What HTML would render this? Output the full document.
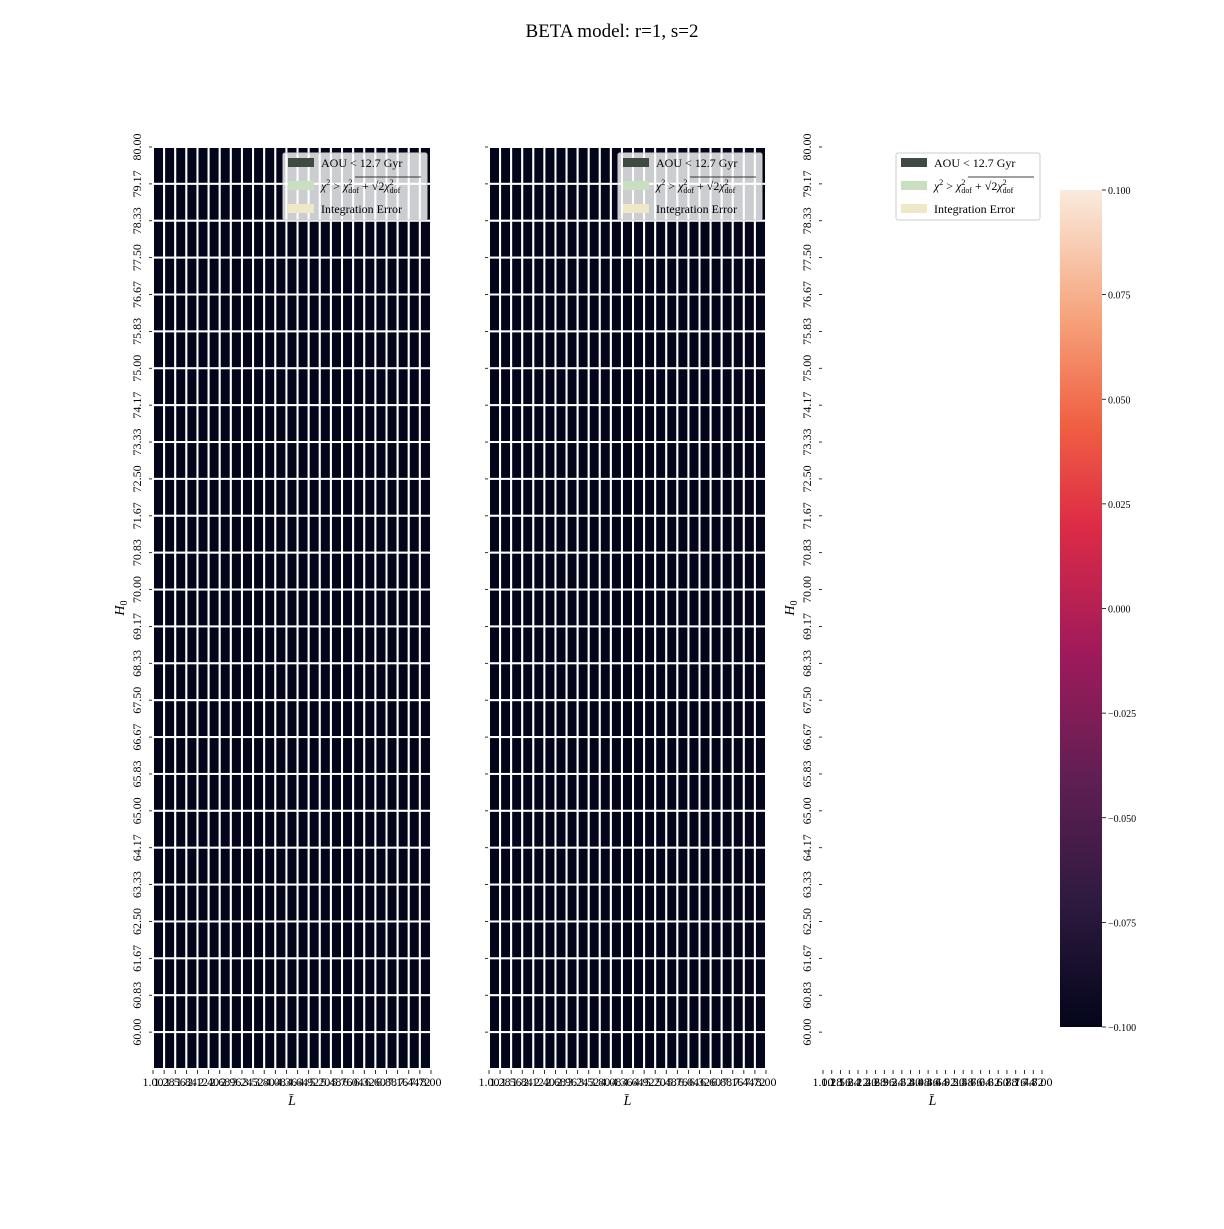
<!DOCTYPE html>
<html><head><meta charset="utf-8">
<style>
html,body{margin:0;padding:0;background:#fff;}
svg text{font-family:"Liberation Serif",serif;fill:#000;}
</style></head>
<body>
<svg id="fig" width="1224" height="1224" xmlns="http://www.w3.org/2000/svg">
<defs>
<linearGradient id="rocket" x1="0" y1="1" x2="0" y2="0">
<stop offset="0" stop-color="#03051A"/>
<stop offset="0.15" stop-color="#2E1A3F"/>
<stop offset="0.3" stop-color="#611F53"/>
<stop offset="0.45" stop-color="#A11A5B"/>
<stop offset="0.6" stop-color="#DD2C45"/>
<stop offset="0.72" stop-color="#F06043"/>
<stop offset="0.85" stop-color="#F6A47D"/>
<stop offset="1" stop-color="#FAEBDD"/>
</linearGradient>
</defs>
<text x="612" y="37" font-size="19" text-anchor="middle">BETA model: r=1, s=2</text>
<g id="root"></g>
</svg>
<script>
const yLabels = ["80.00","79.17","78.33","77.50","76.67","75.83","75.00","74.17","73.33","72.50","71.67","70.83","70.00","69.17","68.33","67.50","66.67","65.83","65.00","64.17","63.33","62.50","61.67","60.83","60.00"];
const xLabels = ["1.00","1.28","1.56","1.84","2.12","2.40","2.68","2.96","3.24","3.52","3.80","4.08","4.36","4.64","4.92","5.20","5.48","5.76","6.04","6.32","6.60","6.88","7.16","7.44","7.72","8.00"];
const nCols = 25;
const nRows = 25;
const cellValues1 = Array(nRows * nCols).fill(-0.1);
const cellValues2 = Array(nRows * nCols).fill(-0.1);
const cbTicks = [0.100,0.075,0.050,0.025,0.000,-0.025,-0.050,-0.075,-0.100];
const cbMin = -0.1, cbMax = 0.1;

const NS = "http://www.w3.org/2000/svg";
const root = document.getElementById('root');
function mk(tag, attrs, parent){
  const e = document.createElementNS(NS, tag);
  for (const k in attrs) e.setAttribute(k, attrs[k]);
  (parent||root).appendChild(e);
  return e;
}
function color(v){
  const t = (v - cbMin)/(cbMax - cbMin);
  const stops = [[0,[3,5,26]],[0.15,[46,26,63]],[0.3,[97,31,83]],[0.45,[161,26,91]],[0.6,[221,44,69]],[0.72,[240,96,67]],[0.85,[246,164,125]],[1,[250,235,221]]];
  for (let i=1;i<stops.length;i++){
    if (t<=stops[i][0]){
      const a=stops[i-1],b=stops[i],f=(t-a[0])/(b[0]-a[0]);
      const c=a[1].map((x,j)=>Math.round(x+(b[1][j]-x)*f));
      return `rgb(${c[0]},${c[1]},${c[2]})`;
    }
  }
  return 'rgb(250,235,221)';
}

const plotTop = 147, plotBottom = 1069;
const rowH = (plotBottom - plotTop) / nRows;

function panel(name, x0, x1, values, legendX, showY){
  const g = mk('g', {});
  
  
  const cw = (x1 - x0) / nCols;
  if (values){
    for (let r=0;r<nRows;r++) for (let c=0;c<nCols;c++){
      const cell = mk('rect', {x:x0+c*cw, y:plotTop+r*rowH, width:cw, height:rowH, fill:color(values[r*nCols+c]), stroke:'#fff', 'stroke-width':2}, g);
      
      
    }
  }
  yLabels.forEach((lab,i)=>{
    const y = plotTop + i*rowH;
    mk('line',{x1:x0-4,x2:x0-1,y1:y,y2:y,stroke:'#000','stroke-width':0.8},g);
    if (showY){
      const t = mk('text',{x:0,y:0,'font-size':12,'text-anchor':'middle',transform:`translate(${x0-12},${y}) rotate(-90)`},g);
      
      
      t.textContent = lab;
    }
  });
  if (showY){
    const yt = mk('text',{x:0,y:0,'font-size':14,'font-style':'italic','text-anchor':'middle',transform:`translate(${x0-29},${(plotTop+plotBottom)/2}) rotate(-90)`},g);
    
    
    yt.innerHTML = 'H<tspan font-size="10" dy="3" font-style="normal">0</tspan>';
  }
  xLabels.forEach((lab,i)=>{
    const x = x0 + i*cw;
    mk('line',{x1:x,x2:x,y1:plotBottom+1,y2:plotBottom+5,stroke:'#000','stroke-width':0.8},g);
    const t = mk('text',{x:x,y:plotBottom+17,'font-size':12,'text-anchor':'middle'},g);
    
    
    t.textContent = lab;
  });
  const xt = mk('text',{x:(x0+x1)/2,y:plotBottom+36,'font-size':14,'font-style':'italic','text-anchor':'middle'},g);
  
  
  xt.textContent = 'L\u0304';
  const lg = mk('g',{},g);
  
  
  mk('rect',{x:legendX,y:153,width:144,height:67,rx:2,fill:'#fff','fill-opacity':values?0.8:1,stroke:'#ccc','stroke-width':1},lg);
  const items = [['#3F4B40','AOU < 12.7 Gyr'],['#C8E0C0','chi'],['#EDE8C8','Integration Error']];
  items.forEach((it,i)=>{
    const y = 158 + i*23;
    const sw = mk('rect',{x:legendX+5,y:y,width:26,height:9,fill:it[0]},lg);
    
    
    const t = mk('text',{x:legendX+38,y:y+9,'font-size':12},lg);
    
    
    if (it[1]==='chi'){
      t.innerHTML = '<tspan font-style="italic">χ</tspan><tspan font-size="8" dy="-5">2</tspan><tspan dy="5"> &gt; </tspan><tspan font-style="italic">χ</tspan><tspan font-size="8" dy="-5">2</tspan><tspan font-size="8" dx="-4" dy="8">dof</tspan><tspan dy="-3"> + √</tspan><tspan>2</tspan><tspan font-style="italic">χ</tspan><tspan font-size="8" dy="-5">2</tspan><tspan font-size="8" dx="-4" dy="8">dof</tspan>';
      mk('line',{x1:legendX+72,x2:legendX+138,y1:y-4,y2:y-4,stroke:'#000','stroke-width':0.8},lg);
    } else t.textContent = it[1];
  });
}
panel('heatmap-panel-1', 153, 431, cellValues1, 283, true);
panel('heatmap-panel-2', 489, 766, cellValues2, 618, false);
panel('empty-panel-3', 823, 1042, null, 896, true);

const cb = mk('g',{});


const cbTop=190, cbBot=1027;
mk('rect',{x:1060,y:cbTop,width:42,height:cbBot-cbTop,fill:'url(#rocket)'},cb);
cbTicks.forEach(v=>{
  const y = cbBot - (v-cbMin)/(cbMax-cbMin)*(cbBot-cbTop);
  mk('line',{x1:1102,x2:1106,y1:y,y2:y,stroke:'#000','stroke-width':0.8},cb);
  const t = mk('text',{x:1108,y:y+4,'font-size':10},cb);
  
  
  t.textContent = (v<0?'\u2212':'') + Math.abs(v).toFixed(3);
});
</script>
</body></html>
